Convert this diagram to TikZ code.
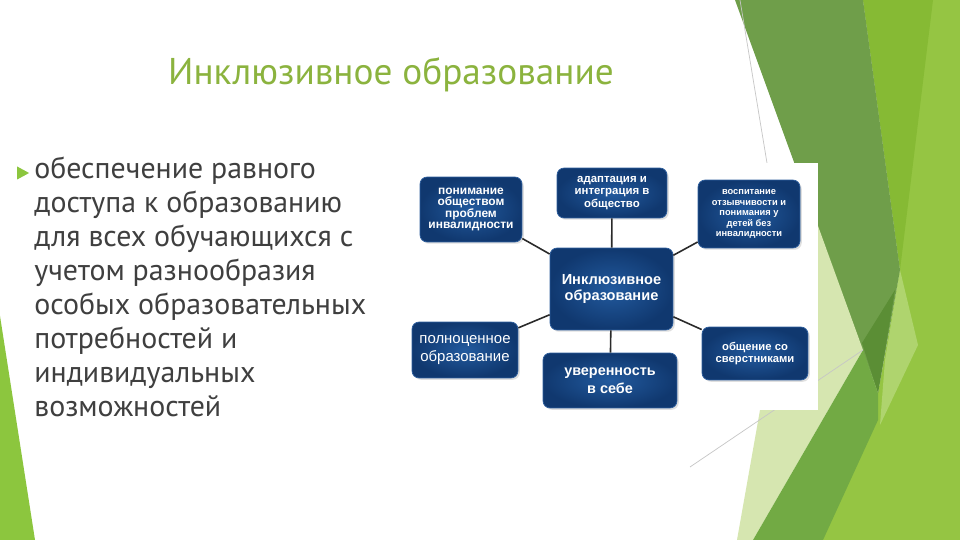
\documentclass[tikz,border=0pt]{standalone}
\usepackage{fontspec}
\setmainfont{PT Sans}
\newfontfamily\boxfont{Liberation Sans}
\usepackage{xcolor}
\usetikzlibrary{shapes,shadows}
\definecolor{titlegreen}{HTML}{8BB33E}
\definecolor{bodygray}{HTML}{3F3F3F}
\definecolor{brightgreen}{HTML}{95C543}
\definecolor{deepbright}{HTML}{86BA34}
\definecolor{sliver}{HTML}{AFD46E}
\definecolor{olive}{HTML}{6F9E4A}
\definecolor{darkolive}{HTML}{5B8E35}
\definecolor{pale}{HTML}{D6E6B0}
\definecolor{midgreen}{HTML}{72AA44}
\definecolor{leftgreen}{HTML}{8CC63E}
\definecolor{blokin}{HTML}{225A9E}
\definecolor{blokout}{HTML}{10386F}
\definecolor{blokedge}{HTML}{2E5F9E}
\definecolor{linkgray}{HTML}{2A2A2A}
\tikzstyle{blok}=[rectangle,rounded corners=4pt,draw=blokedge,inner color=blokin,outer color=blokout,text=white,align=center,inner sep=1pt,drop shadow={opacity=0.25,shadow xshift=1pt,shadow yshift=-1pt}]
\tikzstyle{link}=[draw=linkgray,line width=0.9pt]
\tikzstyle{titletext}=[text=titlegreen,font=\fontsize{21.2}{25}\selectfont,inner sep=0pt]
\tikzstyle{bodytext}=[text=bodygray,align=left,inner sep=0pt,font=\fontsize{17}{19.4}\selectfont]

\begin{document}
\begin{tikzpicture}[x=0.02cm,y=-0.02cm]
        \useasboundingbox (0,0) rectangle (960,540);
        \fill[white] (0,0) rectangle (960,540);
        % facets on the right
        \fill[brightgreen] (863,0) -- (960,0) -- (960,540) -- (820,540) -- (878,393) -- (900,270) -- cycle;
        \fill[deepbright] (863,0) -- (933,0) -- (900,270) -- cycle;
        \fill[sliver] (900,270) -- (918,345) -- (880,425) -- (885,360) -- cycle;
        \fill[olive] (735,0) -- (863,0) -- (900,270) -- (878,393) -- cycle;
        \fill[darkolive] (862,343) -- (895,290) -- (878,393) -- cycle;
        \fill[pale] (797,168) -- (863,350) -- (753,540) -- (737,540) -- (760,410) -- (790,168) -- cycle;
        \fill[midgreen] (753,540) -- (863,350) -- (878,393) -- (878,420) -- (823,540) -- cycle;
        \draw[gray!45,thin] (740,0) -- (767,163);
        \draw[gray!45,thin] (690,467) -- (863,350);
        % facet on the left
        \fill[leftgreen] (0,316) -- (35,540) -- (0,540) -- cycle;
        % picture panel
        \fill[white] (400,163) rectangle (818,410);

        \node at (391,85) [anchor=base,titletext] (title) {Инклюзивное образование};
        \node at (21,173) [isosceles triangle,isosceles triangle stretches,fill=leftgreen,inner sep=0pt,minimum height=0.24cm,minimum width=0.26cm] (mark) {};
        \node at (34,417) [anchor=base west,bodytext] (body) {обеспечение равного\\доступа к образованию\\для всех обучающихся с\\учетом разнообразия\\особых образовательных\\потребностей и\\индивидуальных\\возможностей};

        \node at (611.5,289) [blok,minimum width=2.46cm,minimum height=1.64cm,font=\boxfont\bfseries\fontsize{8.3}{9.2}\selectfont] (C) {Инклюзивное\\образование};
        \node at (471,209.5) [blok,minimum width=2.04cm,minimum height=1.30cm,font=\boxfont\bfseries\fontsize{6.8}{6.4}\selectfont] (TL) {понимание\\обществом\\проблем\\инвалидности};
        \node at (612,193) [blok,minimum width=2.2cm,minimum height=1.0cm,font=\boxfont\bfseries\fontsize{6.5}{7}\selectfont] (TC) {адаптация и\\интеграция в\\общество};
        \node at (749,214) [blok,minimum width=2.04cm,minimum height=1.36cm,font=\boxfont\bfseries\fontsize{5.3}{6}\selectfont] (TR) {воспитание\\отзывчивости и\\понимания у\\детей без\\инвалидности};
        \node at (465,350) [blok,minimum width=2.12cm,minimum height=1.12cm,font=\boxfont\fontsize{8.5}{9.8}\selectfont] (BL) {полноценное\\образование};
        \node at (610,380.5) [blok,minimum width=2.68cm,minimum height=1.10cm,font=\boxfont\bfseries\fontsize{8.2}{10.2}\selectfont] (BC) {уверенность\\в себе};
        \node at (755,353.5) [blok,minimum width=2.12cm,minimum height=1.06cm,font=\boxfont\bfseries\fontsize{6.4}{7}\selectfont] (BR) {общение со\\сверстниками};

        \draw [link] (C) to (TL);
        \draw [link] (C) to (TC);
        \draw [link] (C) to (TR);
        \draw [link] (C) to (BL);
        \draw [link] (C) to (BC);
        \draw [link] (C) to (BR);
      \end{tikzpicture}
\end{document}
